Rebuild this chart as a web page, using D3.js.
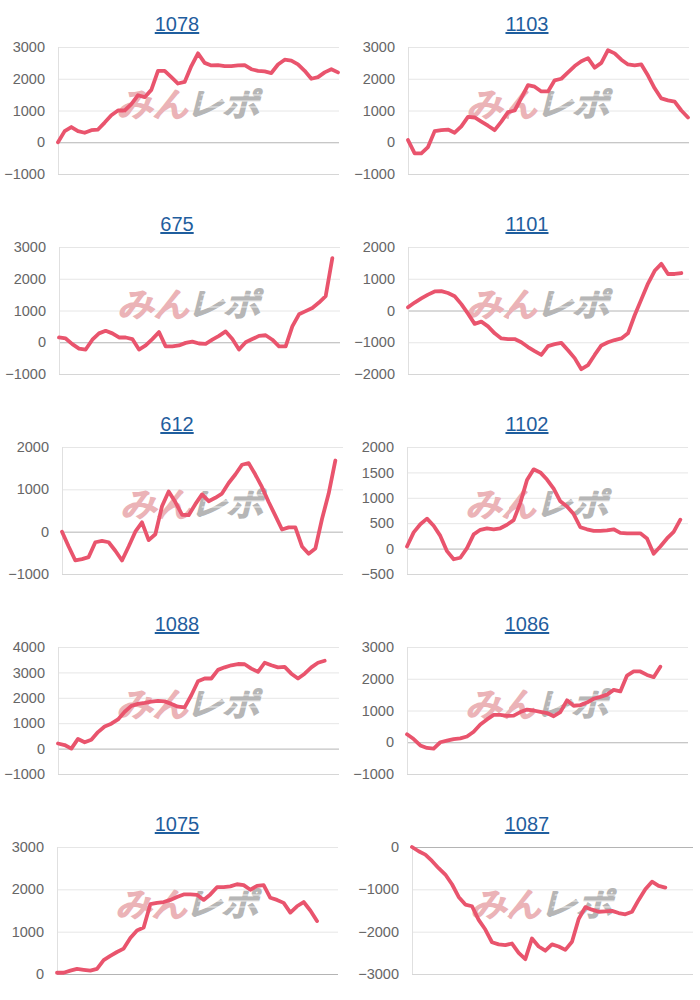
<!DOCTYPE html>
<html>
<head>
<meta charset="utf-8">
<script src="https://cdn.jsdelivr.net/npm/d3@7"></script>
<style>
  html, body { margin: 0; padding: 0; background: #fff; }
  svg { display: block; }
  text { font-family: "Liberation Sans", Arial, sans-serif; }
</style>
</head>
<body>
<svg id="chart" width="700" height="1000"></svg>
<script>
// ---------- data ----------
const titles = ["1078", "1103", "675", "1101", "612", "1102", "1088", "1086", "1075", "1087"];

const s1078 = [0,350,480,350,300,380,400,620,850,1000,1000,1200,1480,1420,1650,2250,2250,2050,1850,1900,2400,2800,2500,2420,2430,2400,2400,2420,2430,2300,2250,2230,2180,2450,2600,2570,2450,2250,2000,2050,2200,2300,2200];
const s1103 = [70,-350,-350,-150,350,380,400,300,500,800,780,650,520,380,650,950,1000,1400,1800,1750,1600,1600,1950,2000,2200,2400,2550,2650,2350,2500,2900,2800,2600,2450,2420,2450,2100,1700,1380,1320,1280,1000,780];
const s675  = [150,120,-60,-200,-230,80,280,360,280,150,150,100,-230,-100,100,320,-130,-130,-100,-20,20,-40,-50,80,200,340,100,-230,0,100,200,220,80,-130,-130,500,880,980,1080,1250,1450,2650];
const s1101 = [100,250,380,500,600,610,550,450,200,-100,-420,-350,-500,-720,-880,-900,-900,-1000,-1150,-1280,-1400,-1120,-1060,-1020,-1250,-1500,-1850,-1720,-1400,-1100,-1000,-930,-880,-720,-150,350,850,1250,1470,1150,1150,1180];
const s612  = [0,-350,-680,-650,-600,-250,-220,-250,-450,-680,-350,0,220,-200,-60,600,950,700,400,390,650,880,720,800,900,1150,1350,1580,1620,1350,1050,700,380,50,100,100,-350,-520,-400,300,900,1680];
const s1102 = [40,320,480,590,450,250,-50,-210,-180,10,280,370,400,380,400,470,560,900,1350,1560,1500,1360,1180,930,830,680,420,380,350,350,360,380,310,300,300,300,200,-100,40,200,330,570];
const s1088 = [200,140,0,380,250,350,650,870,980,1150,1450,1680,1760,1800,1850,1880,1860,1760,1650,1620,2100,2650,2760,2760,3100,3200,3280,3330,3320,3150,3020,3380,3280,3200,3220,2950,2760,2950,3200,3380,3460];
const s1086 = [250,100,-100,-180,-200,0,50,100,120,180,330,560,720,860,860,830,840,950,1030,1000,960,920,820,950,1320,1150,1170,1250,1370,1430,1500,1650,1600,2100,2230,2230,2120,2050,2380];
const s1075 = [30,30,80,120,100,80,120,330,430,520,600,850,1030,1100,1650,1680,1700,1750,1820,1880,1880,1870,1750,1880,2050,2050,2070,2120,2100,1990,2080,2100,1800,1750,1680,1450,1600,1700,1500,1250];
const s1087 = [0,-100,-180,-330,-500,-650,-880,-1180,-1360,-1400,-1720,-1950,-2250,-2300,-2320,-2280,-2500,-2650,-2160,-2350,-2450,-2300,-2350,-2430,-2240,-1700,-1420,-1480,-1530,-1520,-1510,-1560,-1590,-1530,-1250,-1000,-820,-920,-960];

const ticks1078 = [-1000, 0, 1000, 2000, 3000];
const ticks1103 = [-1000, 0, 1000, 2000, 3000];
const ticks675  = [-1000, 0, 1000, 2000, 3000];
const ticks1101 = [-2000, -1000, 0, 1000, 2000];
const ticks612  = [-1000, 0, 1000, 2000];
const ticks1102 = [-500, 0, 500, 1000, 1500, 2000];
const ticks1088 = [-1000, 0, 1000, 2000, 3000, 4000];
const ticks1086 = [-1000, 0, 1000, 2000, 3000];
const ticks1075 = [0, 1000, 2000, 3000];
const ticks1087 = [-3000, -2000, -1000, 0];

const seriesList = [s1078, s1103, s675, s1101, s612, s1102, s1088, s1086, s1075, s1087];
const tickList = [ticks1078, ticks1103, ticks675, ticks1101, ticks612, ticks1102, ticks1088, ticks1086, ticks1075, ticks1087];
const slotCount = 43; // x slots across the plot

// ---------- layout ----------
const plotLeft = [58, 58, 59, 58, 62, 57, 58, 57, 57, 62];
const plotWidth = 280;
const plotTop = 47;
const plotHeight = 127;
const rowHeight = 200;
const colWidth = 350;

const svg = d3.select("#chart");

titles.forEach((title, i) => {
  const col = i % 2, row = Math.floor(i / 2);
  const g = svg.append("g").attr("transform", `translate(${col * colWidth},${row * rowHeight})`);
  const data = seriesList[i];
  const ticks = tickList[i];
  const left = plotLeft[i];

  const x = d3.scaleLinear().domain([0, slotCount - 1]).range([left, left + plotWidth]);
  const y = d3.scaleLinear().domain(d3.extent(ticks)).range([plotTop + plotHeight, plotTop]);

  // title
  g.append("text")
    .attr("x", 177).attr("y", 31)
    .attr("text-anchor", "middle")
    .attr("font-size", 20)
    .attr("fill", "#1f5e9e")
    .attr("text-decoration", "underline")
    .text(title);

  // y axis with gridlines
  const axis = d3.axisLeft(y)
    .tickValues(ticks)
    .tickFormat(d3.format("d"))
    .tickSize(-plotWidth - 1)
    .tickPadding(13);
  const ag = g.append("g").attr("transform", `translate(${left},0)`).call(axis);
  ag.select(".domain").remove();
  ag.selectAll(".tick line")
    .attr("stroke", d => d === 0 ? "#b4b4b4" : (d === ticks[0] ? "#d6d6d6" : "#e6e6e6"))
    .attr("stroke-width", 1);
  ag.selectAll(".tick text")
    .attr("font-size", 14.5)
    .attr("fill", "#666")
    .attr("font-family", "'Liberation Sans', Arial, sans-serif");

  // left axis line
  g.append("line")
    .attr("x1", left + 0.5).attr("x2", left + 0.5)
    .attr("y1", plotTop).attr("y2", plotTop + plotHeight)
    .attr("stroke", "#e0e0e0");

  // watermark
  const wmg = g.append("g")
    .attr("transform", `translate(${left + 60},${plotTop + 67}) skewX(-14)`);
  const wm = wmg.append("text")
    .attr("x", 0).attr("y", 0)
    .attr("font-size", 32)
    .attr("font-weight", 900)
    .attr("font-family", "'Noto Sans CJK JP', sans-serif")
    .attr("stroke-width", 1.4)
    .attr("textLength", 142)
    .attr("lengthAdjust", "spacingAndGlyphs");
  wm.append("tspan").attr("fill", "#ebb3b7").attr("stroke", "#ebb3b7").text("みん");
  wm.append("tspan").attr("fill", "#b6b6b6").attr("stroke", "#b6b6b6").text("レポ");
  // speed stripes across the grey part
  [-19, -13, -7].forEach(dy => {
    wmg.append("line")
      .attr("x1", 78).attr("x2", 146)
      .attr("y1", dy).attr("y2", dy)
      .attr("stroke", "#fff").attr("stroke-width", 1.2).attr("opacity", 0.8);
  });

  // line
  const line = d3.line().x((d, j) => x(j)).y(d => y(d));
  g.append("path")
    .datum(data)
    .attr("fill", "none")
    .attr("stroke", "#e9546d")
    .attr("stroke-width", 3.8)
    .attr("stroke-linejoin", "round")
    .attr("stroke-linecap", "round")
    .attr("d", line);
});
</script>
</body>
</html>
